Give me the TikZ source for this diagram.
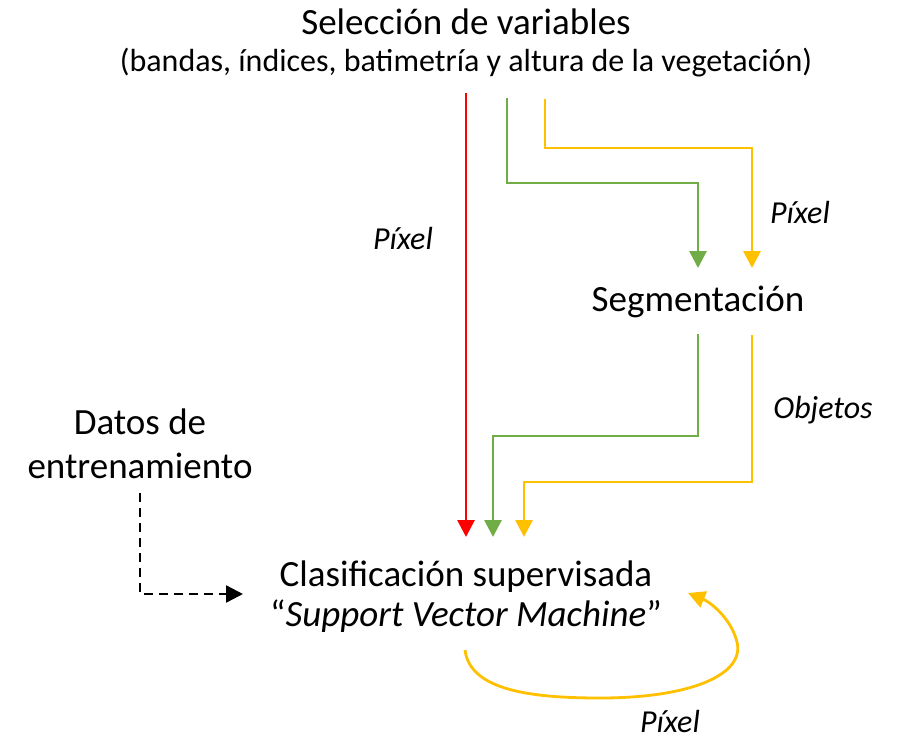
\documentclass[tikz,border=0pt]{standalone}
\usepackage{fontspec}
\setmainfont{Carlito}
\definecolor{arrred}{RGB}{255,0,0}
\definecolor{arrgreen}{RGB}{112,173,71}
\definecolor{arryellow}{RGB}{255,192,0}
\usetikzlibrary{arrows.meta,positioning,calc}

\begin{document}
\begin{tikzpicture}[x=1pt,y=-1pt,
  bigtxt/.style={inner sep=0pt,font=\fontsize{37}{44}\selectfont,align=center},
  subtxt/.style={inner sep=0pt,font=\fontsize{32}{40}\selectfont,align=center},
  lbl/.style={inner sep=0pt,font=\fontsize{32}{40}\selectfont\itshape},
  flow/.style={line width=2.8pt,-{Triangle[length=17pt,width=17pt]}},
  redarr/.style={flow,arrred},
  grnarr/.style={flow,arrgreen},
  ylwarr/.style={flow,arryellow},
  dasharr/.style={line width=2.4pt,dash pattern=on 9pt off 6pt,-{Triangle[length=17pt,width=17pt]}}
]
  \useasboundingbox (0,0) rectangle (899,742);

  % Texts
  \node[bigtxt] (sel) at (466,22) {Selección de variables};
  \node[subtxt] (selsub) at (466,63) {(bandas, índices, batimetría y altura de la vegetación)};
  \node[bigtxt] (seg) at (698,302) {Segmentación};
  \node[bigtxt] (datos) at (140,444) {Datos de\\entrenamiento};
  \node[bigtxt] (clas) at (466,597) {Clasificación supervisada\\[-4pt]``\textit{Support Vector Machine}''};

  % Labels
  \node[lbl] (lpix1) at (403,238) {Píxel};
  \node[lbl] (lpix2) at (800,212) {Píxel};
  \node[lbl] (lobj) at (823,410) {Objetos};
  \node[lbl] (lpix3) at (670,721) {Píxel};

  % Anchor points
  \coordinate (r0) at (466,93);
  \coordinate (r1) at (466,537);
  \coordinate (g0) at (507,98);
  \coordinate (g1) at (698,183);
  \coordinate (g2) at (698,268);
  \coordinate (y0) at (545,99);
  \coordinate (y1) at (752,148);
  \coordinate (y2) at (752,268);
  \coordinate (g3) at (698,334);
  \coordinate (g4) at (493,436);
  \coordinate (g5) at (493,537);
  \coordinate (y3) at (752,335);
  \coordinate (y4) at (524,482);
  \coordinate (y5) at (524,537);
  \coordinate (d0) at (140,493);
  \coordinate (d1) at (243,594);
  \coordinate (c0) at (465,650);
  \coordinate (c1) at (688,593);

  % Arrows
  \draw[redarr] (r0) -- (r1);
  \draw[grnarr] (g0) |- (g1) -- (g2);
  \draw[ylwarr] (y0) |- (y1) -- (y2);
  \draw[grnarr] (g3) |- (g4) -- (g5);
  \draw[ylwarr] (y3) |- (y4) -- (y5);
  \draw[dasharr] (d0) |- (d1);
  \draw[arryellow,line width=2.8pt,-{Triangle[length=17pt,width=17pt]}]
    (c0) .. controls (470,690) and (530,698) .. (600,698)
    .. controls (690,698) and (745,675) .. (737,642)
    .. controls (731,618) and (710,602) .. (c1);
\end{tikzpicture}
\end{document}
